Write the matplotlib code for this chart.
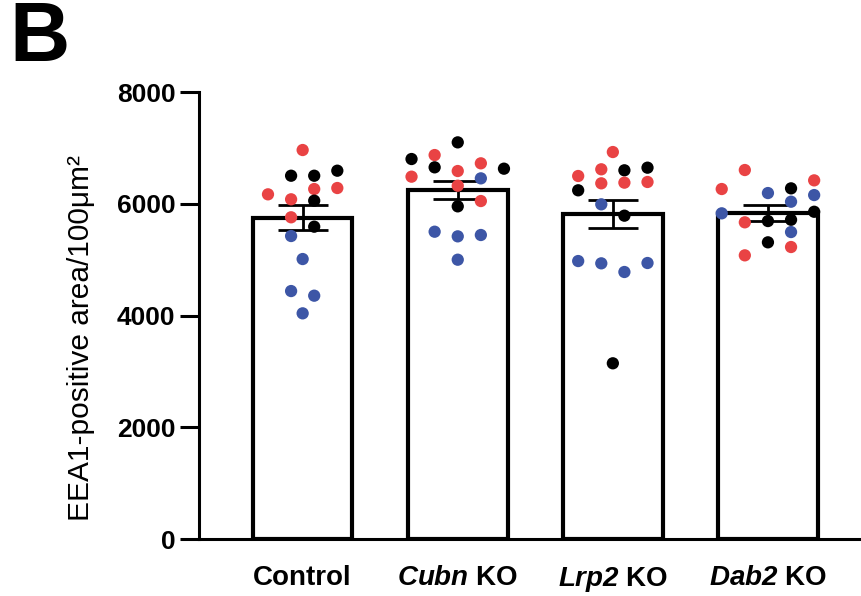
import matplotlib
matplotlib.use("Agg")
import matplotlib.pyplot as plt

plt.rcParams["font.family"] = ["Liberation Sans", "DejaVu Sans"]
plt.rcParams["mathtext.fontset"] = "custom"
plt.rcParams["mathtext.rm"] = "Liberation Sans:italic:bold"
plt.rcParams["mathtext.it"] = "Liberation Sans:italic:bold"

groups = ["Control", r"$\it{Cubn}$ KO", r"$\mathrm{Lrp2}$ KO", r"$\mathrm{Dab2}$ KO"]
means = [5750, 6245, 5820, 5835]
sems = [220, 160, 250, 145]

# per-animal values, replicate colour code, swarm slot
ctrl_vals = [6962, 6502, 6502, 6592, 6169, 6264, 6282, 6080, 6055, 5758, 5590, 5423, 5011, 4438, 4355, 4039]
ctrl_reps = ["r", "k", "k", "k", "r", "r", "r", "r", "k", "r", "k", "b", "b", "b", "b", "b"]
ctrl_slot = [0, -1, 1, 3, -3, 1, 3, -1, 1, -1, 1, -1, 0, -1, 1, 0]

cubn_vals = [7099, 6801, 6872, 6652, 6724, 6628, 6485, 6586, 6455, 6323, 6049, 5954, 5500, 5417, 5441, 4999]
cubn_reps = ["k", "k", "r", "k", "r", "k", "r", "r", "b", "r", "r", "k", "b", "b", "b", "b"]
cubn_slot = [0, -4, -2, -2, 2, 4, -4, 0, 2, 0, 2, 0, -2, 0, 2, 0]

lrp2_vals = [6926, 6497, 6617, 6599, 6646, 6241, 6366, 6378, 6390, 5990, 5787, 4975, 4934, 4779, 4940, 3145]
lrp2_reps = ["r", "r", "r", "k", "k", "k", "r", "r", "r", "b", "k", "b", "b", "b", "b", "k"]
lrp2_slot = [0, -3, -1, 1, 3, -3, -1, 1, 3, -1, 1, -3, -1, 1, 3, 0]

dab2_vals = [6604, 6264, 6192, 6276, 6419, 6037, 6156, 5829, 5668, 5691, 5714, 5857, 5494, 5310, 5226, 5077]
dab2_reps = ["r", "r", "b", "k", "r", "b", "b", "b", "r", "k", "k", "k", "b", "k", "r", "r"]
dab2_slot = [-2, -4, 0, 2, 4, 2, 4, -4, -2, 0, 2, 4, 2, 0, 2, -2]

colors = {"r": "#E94344", "b": "#3D56A6", "k": "#000000"}

fig = plt.figure(figsize=(8.61, 5.96), dpi=100)
ax = fig.add_axes([0.231, 0.0956, 0.769, 0.75])

xs = list(range(len(groups)))
ax.bar(xs, means, width=0.642, color="white", edgecolor="black", linewidth=3, zorder=1)
ax.errorbar(xs, means, yerr=sems, fmt="none", ecolor="black", elinewidth=2,
            capsize=18, capthick=2, zorder=2)

step = 0.0745
sets = [(ctrl_vals, ctrl_reps, ctrl_slot), (cubn_vals, cubn_reps, cubn_slot),
        (lrp2_vals, lrp2_reps, lrp2_slot), (dab2_vals, dab2_reps, dab2_slot)]
for i, (vals, reps, slots) in enumerate(sets):
    px = [i + s * step for s in slots]
    pc = [colors[r] for r in reps]
    ax.scatter(px, vals, s=78, c=pc, edgecolors="none", zorder=3, clip_on=False)

ax.set_xlim(-0.669, 3.6)
ax.set_ylim(0, 8000)
ax.set_yticks([0, 2000, 4000, 6000, 8000])
ax.set_xticks(xs)
ax.set_xticklabels(groups, fontsize=20, fontweight="bold")
ax.tick_params(axis="x", length=0, pad=19)
ax.tick_params(axis="y", length=14, width=2.2, pad=3, labelsize=19)
for t in ax.get_yticklabels():
    t.set_fontweight("bold")

for side in ["top", "right"]:
    ax.spines[side].set_visible(False)
ax.spines["left"].set_linewidth(2.2)
ax.spines["bottom"].set_linewidth(2.2)

ax.set_ylabel("EEA1-positive area/100μm²", fontsize=21.5)
ax.yaxis.set_label_coords(-0.157, 0.45)

fig.text(0.011, 1.0, "B", fontsize=60, fontweight="bold", va="top", ha="left")

fig.savefig("out.png", dpi=100)
